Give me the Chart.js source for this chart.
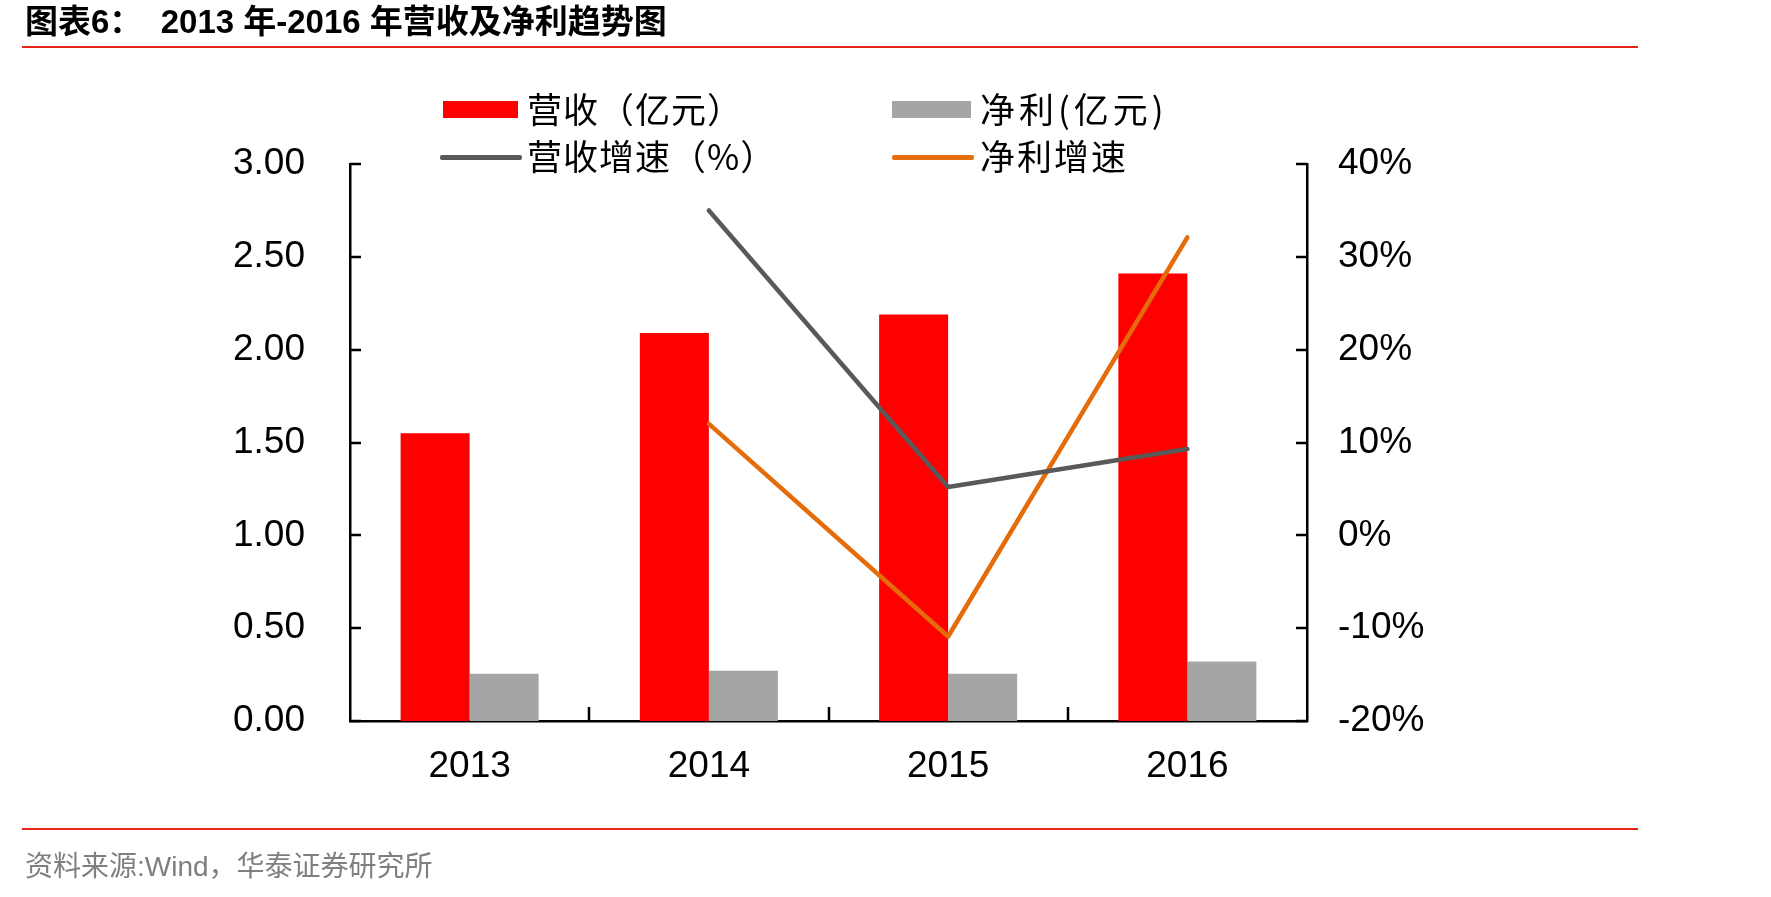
<!DOCTYPE html>
<html>
<head>
<meta charset="utf-8">
<script src="https://cdn.jsdelivr.net/npm/chart.js@4.4.1/dist/chart.umd.min.js"></script>
<style>
  html, body { margin: 0; padding: 0; background: #ffffff; }
  body { width: 1771px; height: 897px; position: relative; overflow: hidden;
         font-family: "Liberation Sans", "Noto Sans CJK SC", sans-serif; }
  #title { position: absolute; left: 25px; top: 4px; font-size: 33px; line-height: 36px;
           font-weight: bold; color: #000; white-space: nowrap;
           font-family: "Liberation Sans Narrow", "Liberation Sans", "Noto Sans CJK SC", sans-serif; }
  .rule { position: absolute; left: 22px; width: 1616px; height: 2px; background: #e8231c; }
  #source { position: absolute; left: 25px; top: 851px; font-size: 28px; line-height: 32px;
            color: #7f7f7f; white-space: nowrap;
            font-family: "Liberation Sans", "Noto Sans CJK SC", sans-serif; }
  #chartBox { position: absolute; left: 0; top: 0; width: 1771px; height: 897px; }
  .leg { position: absolute; font-size: 35px; line-height: 40px; color: #000; white-space: nowrap;
         letter-spacing: 1px; font-family: "Noto Sans CJK SC", sans-serif; }
  .sw { position: absolute; }
</style>
</head>
<body>
<div id="chartBox"><canvas id="c" width="1771" height="897"></canvas></div>
<div id="title">图表6：&nbsp; 2013 年-2016 年营收及净利趋势图</div>
<div class="rule" style="top:46px"></div>
<div class="rule" style="top:828px"></div>
<div id="source">资料来源:Wind，华泰证券研究所</div>
<div id="legend"></div>
<script>
// ---- data ----
const categories = ['2013', '2014', '2015', '2016'];
const revenue = [1.55, 2.09, 2.19, 2.41];          // 营收（亿元）
const netProfit = [0.255, 0.27, 0.255, 0.32];       // 净利(亿元)
const revenueGrowth = [null, 35.0, 5.2, 9.3];       // 营收增速（%）
const profitGrowth = [null, 12.0, -10.9, 32.1];     // 净利增速
const seriesNames = ['营收（亿元）', '净利(亿元)', '营收增速（%）', '净利增速'];
const leftTickValues = [0, 0.5, 1.0, 1.5, 2.0, 2.5, 3.0];
const rightTickValues = [-20, -10, 0, 10, 20, 30, 40];

const colors = ['#ff0000', '#a5a5a5', '#595959', '#e46c0a'];

// ---- legend (HTML text) ----
const legendSpec = [
  { kind: 'box', sx: 443, sy: 101, sw: 75, sh: 17, tx: 527, ty: 108, ls: 1 },
  { kind: 'box', sx: 892, sy: 101, sw: 79, sh: 17, tx: 980, ty: 108, ls: 4 },
  { kind: 'line', sx: 440, sy: 155, sw: 82, sh: 5, tx: 527, ty: 155, ls: 1 },
  { kind: 'line', sx: 892, sy: 155, sw: 82, sh: 5, tx: 980, ty: 155, ls: 2 }
];
const legendEl = document.getElementById('legend');
legendSpec.forEach((s, i) => {
  const sw = document.createElement('div');
  sw.className = 'sw';
  sw.style.cssText = `left:${s.sx}px;top:${s.sy}px;width:${s.sw}px;height:${s.sh}px;background:${colors[i]};` +
    (s.kind === 'line' ? 'border-radius:2px;' : '');
  legendEl.appendChild(sw);
  const t = document.createElement('div');
  t.className = 'leg';
  t.style.left = s.tx + 'px';
  t.style.top = (s.ty - 20) + 'px';
  t.style.letterSpacing = s.ls + 'px';
  t.textContent = seriesNames[i];
  legendEl.appendChild(t);
});

// ---- inward ticks plugin ----
const inwardTicks = {
  id: 'inwardTicks',
  afterDraw(chart) {
    const ctx = chart.ctx;
    const a = chart.chartArea;
    const y = chart.scales.y, y1 = chart.scales.y1, x = chart.scales.x;
    ctx.save();
    ctx.strokeStyle = '#000';
    ctx.lineWidth = 2.5;
    ctx.beginPath();
    y.ticks.forEach(t => {
      const p = Math.round(y.getPixelForValue(t.value));
      ctx.moveTo(a.left, p); ctx.lineTo(a.left + 11, p);
    });
    y1.ticks.forEach(t => {
      const p = Math.round(y1.getPixelForValue(t.value));
      ctx.moveTo(a.right - 11, p); ctx.lineTo(a.right, p);
    });
    for (let i = 1; i < categories.length; i++) {
      const px = Math.round((x.getPixelForTick(i - 1) + x.getPixelForTick(i)) / 2);
      ctx.moveTo(px, a.bottom - 14); ctx.lineTo(px, a.bottom);
    }
    ctx.stroke();
    ctx.restore();
  }
};

const tickFont = { family: '"Liberation Sans", Arial, sans-serif', size: 37 };

new Chart(document.getElementById('c'), {
  data: {
    labels: categories,
    datasets: [
      { type: 'line', label: seriesNames[2], data: revenueGrowth, yAxisID: 'y1',
        borderColor: colors[2], borderWidth: 4.5, pointRadius: 0, tension: 0,
        borderCapStyle: 'round', borderJoinStyle: 'round', spanGaps: false, order: 1 },
      { type: 'line', label: seriesNames[3], data: profitGrowth, yAxisID: 'y1',
        borderColor: colors[3], borderWidth: 4.5, pointRadius: 0, tension: 0,
        borderCapStyle: 'round', borderJoinStyle: 'round', spanGaps: false, order: 1 },
      { type: 'bar', label: seriesNames[0], data: revenue, yAxisID: 'y',
        backgroundColor: colors[0], barPercentage: 1, categoryPercentage: 0.577, order: 2 },
      { type: 'bar', label: seriesNames[1], data: netProfit, yAxisID: 'y',
        backgroundColor: colors[1], barPercentage: 1, categoryPercentage: 0.577, order: 2 }
    ]
  },
  options: {
    responsive: false,
    animation: false,
    devicePixelRatio: 1,
    layout: { padding: { top: 164, left: 0, right: 0, bottom: 0 } },
    plugins: { legend: { display: false }, tooltip: { enabled: false }, title: { display: false } },
    scales: {
      x: {
        position: 'bottom',
        grid: { display: false, drawTicks: false },
        border: { display: true, color: '#000', width: 2.5 },
        ticks: { font: tickFont, color: '#000', padding: 24, maxRotation: 0 },
        afterFit(s) { s.height = 897 - 721; }
      },
      y: {
        position: 'left',
        min: 0, max: 3,
        grid: { display: false, drawTicks: false },
        border: { display: true, color: '#000', width: 2.5 },
        afterBuildTicks(s) { s.ticks = leftTickValues.map(v => ({ value: v })); },
        ticks: { font: tickFont, color: '#000', padding: 45,
                 callback: v => Number(v).toFixed(2) },
        afterFit(s) { s.width = 350; }
      },
      y1: {
        position: 'right',
        min: -20, max: 40,
        grid: { display: false, drawTicks: false },
        border: { display: true, color: '#000', width: 2.5 },
        afterBuildTicks(s) { s.ticks = rightTickValues.map(v => ({ value: v })); },
        ticks: { font: tickFont, color: '#000', padding: 31,
                 callback: v => v + '%' },
        afterFit(s) { s.width = 1771 - 1307; }
      }
    }
  },
  plugins: [inwardTicks]
});
</script>
</body>
</html>
